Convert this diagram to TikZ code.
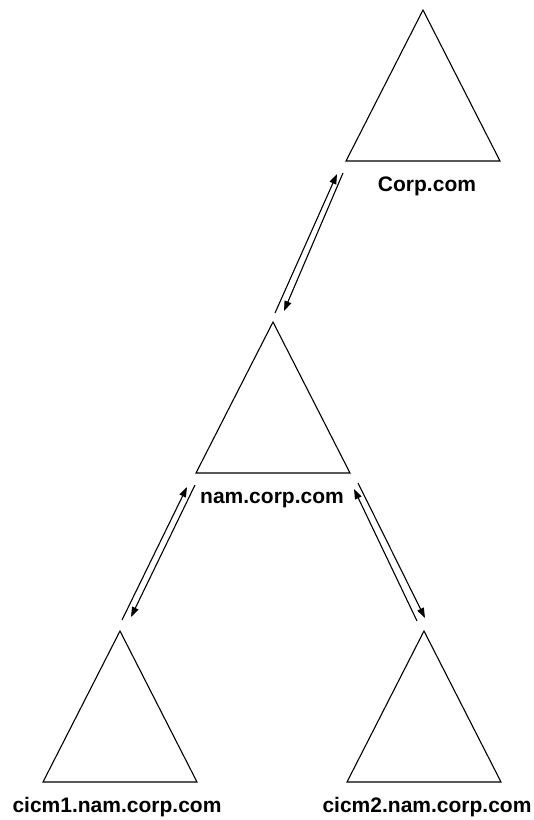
\documentclass[tikz,border=0pt]{standalone}
\usepackage{fontspec}
\setmainfont{Liberation Sans}
\usetikzlibrary{shapes.geometric, arrows.meta}
\begin{document}
\begin{tikzpicture}[x = 1pt, y = -1pt,
  domtree/.style = {draw, isosceles triangle, isosceles triangle stretches,
    shape border rotate = 90, minimum width = 154pt, minimum height = 151pt,
    inner sep = 0pt, outer sep = 0pt, line width = 1.1pt, anchor = apex},
  dname/.style = {font = \fontsize{21}{24}\selectfont\bfseries},
  trust/.style = {line width = 1.1pt, -{Triangle[length = 10pt, width = 7pt]}}]
  \useasboundingbox (0, 0) rectangle (534, 820);
  % domains
  \node[domtree] (corp) at (423, 10) {};
  \node[domtree] (nam) at (273, 322) {};
  \node[domtree] (cicm1) at (120, 631) {};
  \node[domtree] (cicm2) at (424, 631) {};
  \node[dname] (corplbl) at (427, 186) {Corp.com};
  \node[dname] (namlbl) at (272, 500) {nam.corp.com};
  \node[dname] (cicm1lbl) at (117, 807) {cicm1.nam.corp.com};
  \node[dname] (cicm2lbl) at (427, 807) {cicm2.nam.corp.com};
  % trust ends
  \coordinate (a1) at (275, 313);  \coordinate (a2) at (337, 174);
  \coordinate (a3) at (343, 173);  \coordinate (a4) at (284, 311);
  \coordinate (b1) at (122, 620);  \coordinate (b2) at (187, 487);
  \coordinate (b3) at (195, 485);  \coordinate (b4) at (131, 617);
  \coordinate (c1) at (417, 621);  \coordinate (c2) at (354, 489);
  \coordinate (c3) at (358, 483);  \coordinate (c4) at (425, 618);
  % trusts
  \draw[trust] (a1) -- (a2);
  \draw[trust] (a3) -- (a4);
  \draw[trust] (b1) -- (b2);
  \draw[trust] (b3) -- (b4);
  \draw[trust] (c1) -- (c2);
  \draw[trust] (c3) -- (c4);
\end{tikzpicture}
\end{document}
